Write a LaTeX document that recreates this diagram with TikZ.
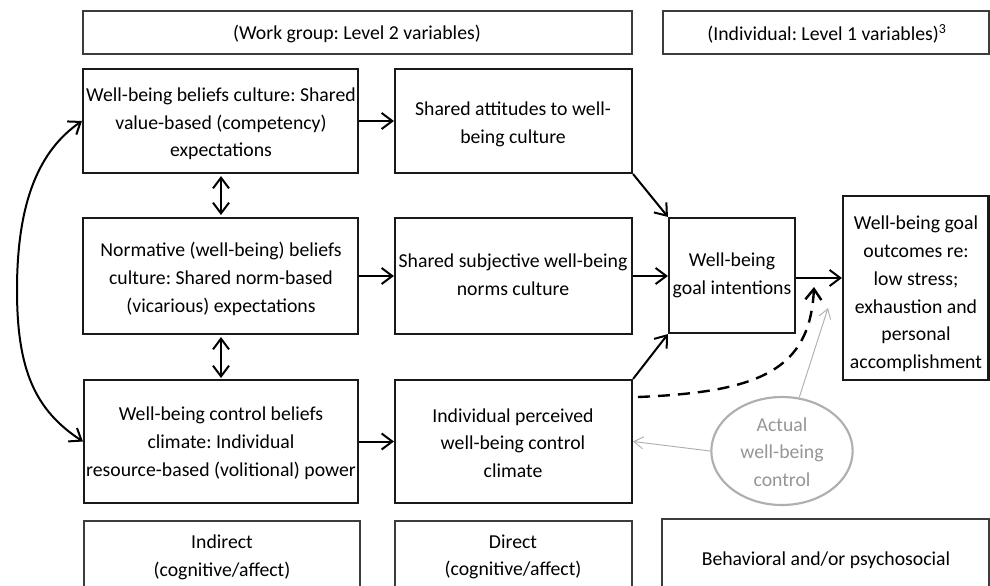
\documentclass[tikz,border=0pt]{standalone}
\usepackage{fontspec}
\setmainfont{Carlito}
\frenchspacing
\usetikzlibrary{arrows.meta,fit,shapes.geometric}
\definecolor{hdr}{RGB}{60,60,60}
\definecolor{lgray}{RGB}{175,175,175}
\definecolor{tgray}{RGB}{150,150,150}
\tikzset{
  every node/.style={font=\fontsize{14.8}{20.8}\selectfont, align=center, inner sep=0pt},
  mainbox/.style={draw=black!90, line width=1.6pt},
  hdrbox/.style={draw=hdr, line width=0.8pt},
  txt/.style={anchor=center, yshift=-1.5pt},
  conn/.style={line width=1.5pt, -{Straight Barb[length=8pt,width=12pt]}},
  biconn/.style={line width=1.5pt, {Straight Barb[length=8pt,width=12pt]}-{Straight Barb[length=8pt,width=12pt]}},
  grayconn/.style={draw=lgray, line width=0.7pt, -{Straight Barb[length=7pt,width=9pt]}},
}
\begin{document}
\frenchspacing
\begin{tikzpicture}[x=0.75pt,y=-0.75pt]
\useasboundingbox (0,0) rectangle (990,586);
\clip (0,0) rectangle (990,586);
\fill[white] (0,0) rectangle (990,586);
% headers
\node[hdrbox, fit={(83,11) (632,54)}] (h1) {};
\node[hdrbox, fit={(663,11) (989,54)}] (h2) {};
\node[txt] (h1t) at (357,32) {(Work group: Level 2 variables)};
\node[txt] (h2t) at (827,32) {(Individual: Level 1 variables)\textsuperscript{3}};
% left column
\node[mainbox, fit={(83,69) (358,173)}] (A) {};
\node[mainbox, fit={(83,218) (358,334)}] (B) {};
\node[mainbox, fit={(84,380) (358,503)}] (C) {};
\node[txt] (At) at (221,122) {Well-being beliefs culture: Shared\\value-based (competency)\\expectations};
\node[txt] (Bt) at (221,277) {Normative (well-being) beliefs\\culture: Shared norm-based\\(vicarious) expectations};
\node[txt] (Ct) at (221,441) {Well-being control beliefs\\climate: Individual\\resource-based (volitional) power};
% middle column
\node[mainbox, fit={(395,69) (632,173)}] (D) {};
\node[mainbox, fit={(395,218) (632,334)}] (E) {};
\node[mainbox, fit={(395,380) (632,503)}] (F) {};
\node[txt] (Dt) at (513,122) {Shared attitudes to well-\\being culture};
\node[txt] (Et) at (513,273) {Shared subjective well-being\\norms culture};
\node[txt] (Ft) at (513,441) {Individual perceived\\well-being control\\climate};
% right
\node[mainbox, fit={(669,218) (795,333)}] (G) {};
\node[txt] (Gt) at (732,273) {Well-being\\goal intentions};
\node[mainbox, fit={(843,196) (988.5,380)}] (H) {};
\node[txt] (Ht) at (916,292) {Well-being goal\\outcomes re:\\low stress;\\exhaustion and\\personal\\accomplishment};
\node[draw=lgray, line width=1.6pt, ellipse, minimum width=106pt, minimum height=81pt] (ell) at (782,451) {};
\node[anchor=center, text=tgray] (ellt) at (782,452) {Actual\\well-being\\control};
% bottom
\node[hdrbox, fit={(84,521) (360,589)}] (b1) {};
\node[hdrbox, fit={(395,521) (632,589)}] (b2) {};
\node[hdrbox, fit={(662,519) (989,597)}] (b3) {};
\node[txt] (b1t) at (222,555) {Indirect\\(cognitive/affect)};
\node[txt] (b2t) at (513,555) {Direct\\(cognitive/affect)};
\node[txt] (b3t) at (826,558) {Behavioral and/or psychosocial};
% connectors
\draw[conn] (A.east) -- (D.west);
\draw[conn] (B.east |- E.west) -- (E.west);
\draw[conn] (C.east) -- (F.west);
\draw[conn] (D.south east) -- (G.north west);
\draw[conn] (E.east |- 0,276) -- (G.west |- 0,276);
\draw[conn] (F.north east) -- (G.south west);
\draw[conn] (G.east |- 0,278) -- (H.west |- 0,278);
\coordinate (ab1) at (221,176);
\coordinate (ab2) at (221,215);
\coordinate (bc1) at (221,337);
\coordinate (bc2) at (221,378);
\draw[biconn] (ab1) -- (ab2);
\draw[biconn] (bc1) -- (bc2);
\coordinate (lm) at (17,290);
\draw[line width=1.5pt, -{Straight Barb[length=8pt,width=12pt]}] (lm) .. controls (17,200) and (40,150) .. (A.west);
\draw[line width=1.5pt, -{Straight Barb[length=8pt,width=12pt]}] (lm) .. controls (17,370) and (35,410) .. (C.west);
\coordinate (ds) at (638,397);
\coordinate (dt) at (814,287);
\draw[conn, line width=1.8pt, dash pattern=on 9pt off 6pt] (ds) .. controls (760,392) and (810,370) .. (dt);
\coordinate (gt) at (828,308);
\draw[grayconn] (ell) -- (gt);
\draw[grayconn] (ell.west) -- (F.east);
\end{tikzpicture}
\end{document}
